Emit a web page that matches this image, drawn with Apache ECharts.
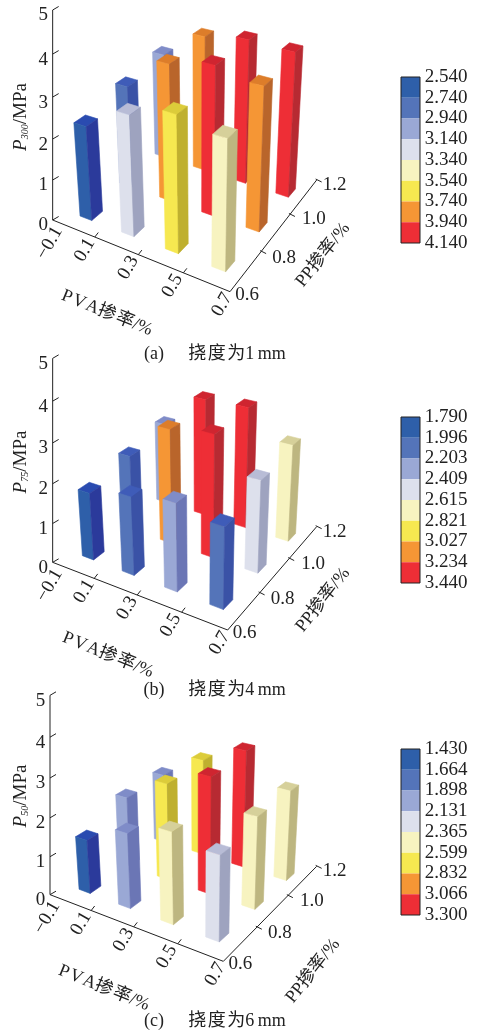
<!DOCTYPE html>
<html><head><meta charset="utf-8">
<style>html,body{margin:0;padding:0;background:#fff}#c{width:481px;height:1033px}</style>
<script src="https://cdn.jsdelivr.net/npm/echarts@6/dist/echarts.min.js"></script>
</head><body><div id="c"></div>
<script>
// ---- data (rows: PP 0.7, 0.9, 1.1; columns: PVA 0, 0.2, 0.4, 0.6)
const pvaLevels=[0,0.2,0.4,0.6];
const ppLevels=[0.7,0.9,1.1];
const p300=[[2.62,3.28,3.65,3.44],[2.92,3.85,4.13,3.93],[3.12,3.93,4.13,4.10]];
const p75=[[1.88,2.15,2.36,2.16],[2.15,3.20,3.38,2.52],[2.38,3.38,3.44,2.72]];
const p50=[[1.50,2.05,2.45,2.25],[2.00,2.70,3.20,2.50],[2.03,2.75,3.30,2.52]];
const legend300=['2.540','2.740','2.940','3.140','3.340','3.540','3.740','3.940','4.140'];
const legend75=['1.790','1.996','2.203','2.409','2.615','2.821','3.027','3.234','3.440'];
const legend50=['1.430','1.664','1.898','2.131','2.365','2.599','2.832','3.066','3.300'];
const zTicks=['0','1','2','3','4','5'];
const pvaTicks=['\u22120.1','0.1','0.3','0.5','0.7'];
const ppTicks=['0.6','0.8','1.0','1.2'];
const frontCols=['#2e5fa9','#5474b9','#9aa8d5','#dde0ec','#f7f3c0','#f6e850','#f59635','#ee2e36'];
const sideCols=['#2b3a9b','#3a52a6','#6b76b5','#9ea3bf','#bdb680','#bfb02f','#b9652b','#b72a32'];
const topCols=['#2a4bb0','#3f5cb8','#7f8cc8','#b8bcd6','#d6d09a','#dccc3a','#dd7d2a','#cf2530'];
const FONT='"Liberation Serif","Noto Sans CJK SC",serif';

// ---- layout of the three panels (reference pixels)
const panels=[
 {y:0,vals:p300,leg:legend300,sub:'300',cap:['(a)','挠\u200a度\u200a为1\u2009mm'],capY:354,legY:77,
  A:[158,660],B:[690,875],C:[950,540],T:[158,30],
  base:[[274,641],[670,791],[857,573],[494,456]],
  zt:[21,117],pvaT:[107,313],ppT:[323,255]},
 {y:345,vals:p75,leg:legend75,sub:'75',cap:['(b)','挠\u200a度\u200a为4\u2009mm'],capY:690,legY:417,
  A:[158,652],B:[683,855],C:[950,545],T:[158,40],
  base:[[280,626],[664,771],[857,571],[499,458]],
  zt:[21,117],pvaT:[108,310],ppT:[323,255]},
 {y:688,vals:p50,leg:legend50,sub:'50',cap:['(c)','挠\u200a度\u200a为6\u2009mm'],capY:1021,legY:749,
  A:[150,620],B:[670,820],C:[950,535],T:[150,22],
  base:[[270,599],[652,741],[852,561],[492,448]],
  zt:[21,108],pvaT:[104,300],ppT:[313,283]}
];
const Cz=-0.0188, Vz=[199,2006];
function homo(q){
 const [x0,y0]=q[0],[x1,y1]=q[1],[x2,y2]=q[2],[x3,y3]=q[3];
 const dx1=x1-x2,dx2=x3-x2,sx=x0-x1+x2-x3,dy1=y1-y2,dy2=y3-y2,sy=y0-y1+y2-y3;
 const det=dx1*dy2-dx2*dy1,g=(sx*dy2-dx2*sy)/det,h=(dx1*sy-sx*dy1)/det;
 return {a:x1-x0+g*x1,b:x3-x0+h*x3,c:x0,d:y1-y0+g*y1,e:y3-y0+h*y3,f:y0,g,h};
}
panels.forEach(p=>{
 const off=v=>[v[0]/3,v[1]/3+p.y];
 p.H=homo(p.base.map(off));
 p.V=[Vz[0],Vz[1]+p.y];
 p.a=off(p.A);p.b=off(p.B);p.c=off(p.C);p.t=off(p.T);
});
function project(p,u,v,z){
 const H=p.H,W=H.g*u+H.h*v+1+z*Cz;
 return [(H.a*u+H.b*v+H.c+z*Cz*p.V[0])/W,(H.d*u+H.e*v+H.f+z*Cz*p.V[1])/W];
}
const HU=0.048,HV=0.065;
const persp=(t,m)=>t*(1+m)/(1+m*t);
const lerp=(a,b,t)=>[a[0]+(b[0]-a[0])*t,a[1]+(b[1]-a[1])*t];
function bin(leg,val){
 for(let i=0;i<8;i++) if(val<parseFloat(leg[i+1])) return i;
 return 7;
}
function poly(api,pts,fill,stroke){
 return {type:'polygon',shape:{points:pts.map(q=>api.coord(q))},
  style:{fill,stroke:stroke||fill,lineWidth:0.6}};
}
function barRender(p){
 return function(params,api){
  const pva=api.value(0),pp=api.value(1),val=api.value(2);
  const u=(pva-pvaLevels[0])/(pvaLevels[3]-pvaLevels[0]),v=(pp-ppLevels[0])/(ppLevels[2]-ppLevels[0]);
  const b=bin(p.leg,val);
  const P=(du,dv,z)=>project(p,u+du,v+dv,z);
  return {type:'group',children:[
   poly(api,[P(-HU,-HV,val),P(HU,-HV,val),P(HU,HV,val),P(-HU,HV,val)],topCols[b]),
   poly(api,[P(-HU,-HV,0),P(HU,-HV,0),P(HU,-HV,val),P(-HU,-HV,val)],frontCols[b]),
   poly(api,[P(HU,-HV,0),P(HU,HV,0),P(HU,HV,val),P(HU,-HV,val)],sideCols[b])
  ]};
 };
}
function line(api,a,b,w){
 const s=api.coord(a),e=api.coord(b);
 return {type:'line',shape:{x1:s[0],y1:s[1],x2:e[0],y2:e[1]},style:{stroke:'#222',lineWidth:w||1,fill:null}};
}
function text(api,str,pt,size,rot,extra){
 const c=api.coord(pt);
 return {type:'text',x:c[0],y:c[1],rotation:(rot||0)*Math.PI/180,
  style:Object.assign({text:str,fontSize:size,fontFamily:FONT,fill:'#222',align:'center',verticalAlign:'middle'},extra||{})};
}
function axisRender(p){
 const pvaOff=[[-3,23],[-10,13],[-10,13],[-11,13],[-8,13]];
 const ppOff=[[17,3],[23,6],[24,5],[18,5]];
 return function(params,api){
  const ch=[line(api,p.a,p.t),line(api,p.a,p.b),line(api,p.b,p.c)];
  zTicks.forEach((l,i)=>{
   const q=lerp(p.a,p.t,persp(i/5,-0.059));
   ch.push(line(api,q,[q[0]+6,q[1]-3.5]));
   ch.push(text(api,l,[q[0]-9.5,q[1]+5.5],19));
  });
  pvaTicks.forEach((l,i)=>{
   const q=lerp(p.b,p.a,persp(1-i/4,0.07));
   if(i>0&&i<4) ch.push(line(api,q,[q[0]+3.5,q[1]-4.5]));
   ch.push(text(api,l,[q[0]+pvaOff[i][0],q[1]+pvaOff[i][1]],19,60));
  });
  ppTicks.forEach((l,i)=>{
   const q=lerp(p.b,p.c,persp(i/3,0.12));
   if(i>0) ch.push(line(api,[q[0]-1,q[1]-1],[q[0]+5,q[1]+2]));
   ch.push(text(api,l,[q[0]+ppOff[i][0],q[1]+ppOff[i][1]],19));
  });
  ch.push(text(api,'{i|P}{s|'+p.sub+'}{n|/MPa}',[p.zt[0],p.zt[1]+p.y],18,90,{
   rich:{i:{fontSize:19,fontStyle:'italic',fontFamily:FONT,fill:'#222',verticalAlign:'bottom'},
         s:{fontSize:10,fontStyle:'italic',fontFamily:FONT,fill:'#222',verticalAlign:'bottom'},
         n:{fontSize:19,fontFamily:FONT,fill:'#222',verticalAlign:'bottom'}}}));
  ch.push(text(api,'P\u200aV\u200aA掺\u200a率/%',[p.pvaT[0],p.pvaT[1]+p.y],18,-22));
  ch.push(text(api,'PP掺率/%',[p.ppT[0],p.ppT[1]+p.y],18,52));
  ch.push(text(api,p.cap[0],[154,p.capY],18));
  ch.push(text(api,p.cap[1],[237,p.capY],18));
  return {type:'group',children:ch};
 };
}
function legendRender(p){
 return function(params,api){
  const i=api.value(0),h=20.75,x0=401,x1=420,y=p.legY+i*h;
  if(i<8){
   const a=api.coord([x0,y]),b=api.coord([x1,y+h]);
   return {type:'rect',shape:{x:a[0],y:a[1],width:b[0]-a[0],height:b[1]-a[1]},style:{fill:frontCols[i]}};
  }
  const a=api.coord([x0,p.legY]),b=api.coord([x1,p.legY+8*h]);
  return {type:'rect',shape:{x:a[0],y:a[1],width:b[0]-a[0],height:b[1]-a[1]},style:{fill:'none',stroke:'#222',lineWidth:1}};
 };
}
function legendText(p){
 return function(params,api){
  const i=api.value(0);
  return text(api,p.leg[i],[446,p.legY+i*20.75],19);
 };
}
const series=[];
panels.forEach(p=>{
 series.push({type:'custom',silent:true,clip:false,coordinateSystem:'cartesian2d',renderItem:axisRender(p),data:[[0]],encode:{x:0,y:0}});
 const rows=[];
 ppLevels.forEach((pp,j)=>pvaLevels.forEach((pva,i)=>rows.push({i,j,value:[pva,pp,p.vals[j][i]]})));
 rows.sort((m,n)=>(m.i-m.j)-(n.i-n.j));
 series.push({type:'custom',silent:true,clip:false,coordinateSystem:'cartesian2d',renderItem:barRender(p),data:rows.map(r=>r.value),encode:{x:0,y:1}});
 series.push({type:'custom',silent:true,clip:false,coordinateSystem:'cartesian2d',renderItem:legendRender(p),data:[0,1,2,3,4,5,6,7,8].map(i=>[i]),encode:{x:0,y:0}});
 series.push({type:'custom',silent:true,clip:false,coordinateSystem:'cartesian2d',renderItem:legendText(p),data:p.leg.map((s,i)=>[i]),encode:{x:0,y:0}});
});
const chart=echarts.init(document.getElementById('c'),null,{renderer:'canvas'});
chart.setOption({
 backgroundColor:'#fff',animation:false,
 grid:{left:0,right:0,top:0,bottom:0},
 xAxis:{type:'value',min:0,max:481,show:false},
 yAxis:{type:'value',min:0,max:1033,inverse:true,show:false},
 series
});
</script></body></html>
